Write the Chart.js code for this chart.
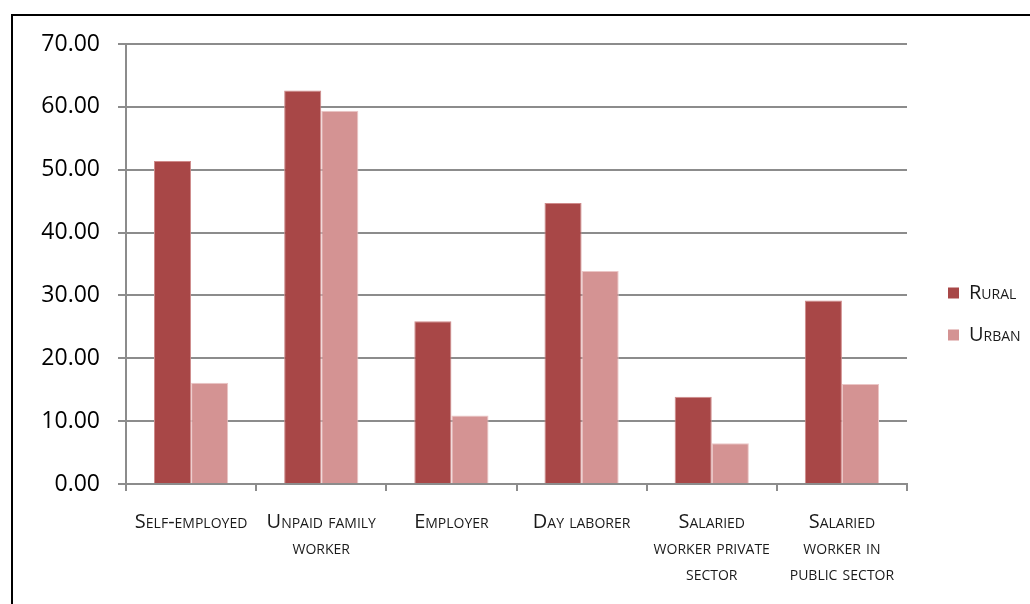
<!DOCTYPE html>
<html>
<head>
<meta charset="utf-8">
<script src="https://cdn.jsdelivr.net/npm/chart.js@4"></script>
<style>
  html, body { margin: 0; padding: 0; background: #fff; }
  #wrap { position: relative; width: 1030px; height: 604px; overflow: hidden; }
  #frame {
    position: absolute; left: 11px; top: 14px; width: 1040px; height: 620px;
    border-left: 2px solid #000; border-top: 2px solid #000; pointer-events: none;
  }
  canvas { position: absolute; left: 0; top: 0; }
</style>
</head>
<body>
<div id="wrap">
  <canvas id="chart" width="1030" height="604"></canvas>
  <div id="frame"></div>
</div>
<script>
// Employment status by area
const categories = [
  'Self-employed',
  ['Unpaid family', 'worker'],
  'Employer',
  'Day laborer',
  ['Salaried', 'worker private', 'sector'],
  ['Salaried', 'worker in', 'public sector']
];
const ruralValues = [51.4, 62.6, 25.9, 44.7, 13.9, 29.2];
const urbanValues = [16.1, 59.4, 10.9, 33.9, 6.5, 15.9];
const yTicks = [0, 10, 20, 30, 40, 50, 60, 70];

const axisGray = '#8c8c8c';
const labelFont = { family: "'Open Sans', sans-serif", size: 20, weight: 'small-caps', lineHeight: '26px' };

// legend keeps a fixed width, then its items are moved right/up a bit
const legendPlace = {
  id: 'legendPlace',
  afterInit(chart) {
    const lg = chart.legend;
    const fit = lg.fit.bind(lg);
    lg.fit = function() {
      fit();
      this.width = 123;
    };
  },
  afterLayout(chart) {
    const lg = chart.legend;
    lg.left += 19; lg.right += 19;
    lg.top -= 10; lg.bottom -= 10;
  }
};

document.addEventListener('DOMContentLoaded', function() {
  const ctx = document.getElementById('chart').getContext('2d');
  new Chart(ctx, {
    type: 'bar',
    data: {
      labels: categories,
      datasets: [
        {
          label: 'Rural',
          data: ruralValues,
          backgroundColor: '#a84747',
          borderColor: '#cf8a8a',
          borderWidth: 1,
          categoryPercentage: 0.57,
          barPercentage: 1.0
        },
        {
          label: 'Urban',
          data: urbanValues,
          backgroundColor: '#d49393',
          borderColor: '#ebc6c6',
          borderWidth: 1,
          categoryPercentage: 0.57,
          barPercentage: 1.0
        }
      ]
    },
    options: {
      responsive: false,
      animation: false,
      layout: { padding: { top: 44, left: 0, right: 0, bottom: 0 } },
      plugins: {
        legend: {
          position: 'right',
          labels: {
            boxWidth: 11,
            boxHeight: 11,
            padding: 22,
            color: '#1a1a1a',
            font: labelFont,
            generateLabels(chart) {
              // plain filled squares, no outline
              return chart.data.datasets.map((ds, i) => ({
                text: ds.label,
                fillStyle: ds.backgroundColor,
                strokeStyle: ds.backgroundColor,
                lineWidth: 0,
                fontColor: '#1a1a1a',
                hidden: false,
                datasetIndex: i
              }));
            }
          }
        },
        tooltip: { enabled: false }
      },
      scales: {
        x: {
          grid: {
            offset: true,
            drawOnChartArea: false,
            drawTicks: true,
            tickLength: 7,
            color: axisGray,
            lineWidth: 2
          },
          border: { color: axisGray, width: 2 },
          ticks: {
            color: '#1a1a1a',
            font: labelFont,
            padding: 18,
            maxRotation: 0,
            autoSkip: false
          },
          afterFit(scale) { scale.height = 120; }
        },
        y: {
          min: 0,
          max: 70,
          afterBuildTicks(scale) {
            scale.ticks = yTicks.map(v => ({ value: v }));
          },
          grid: {
            color: axisGray,
            lineWidth: 2,
            tickLength: 8
          },
          border: { color: axisGray, width: 2 },
          ticks: {
            color: '#000',
            font: { family: "'Open Sans', sans-serif", size: 23 },
            padding: 18,
            callback: v => Number(v).toFixed(2)
          },
          afterFit(scale) { scale.width = 126; }
        }
      }
    },
    plugins: [legendPlace]
  });
});
</script>
</body>
</html>
